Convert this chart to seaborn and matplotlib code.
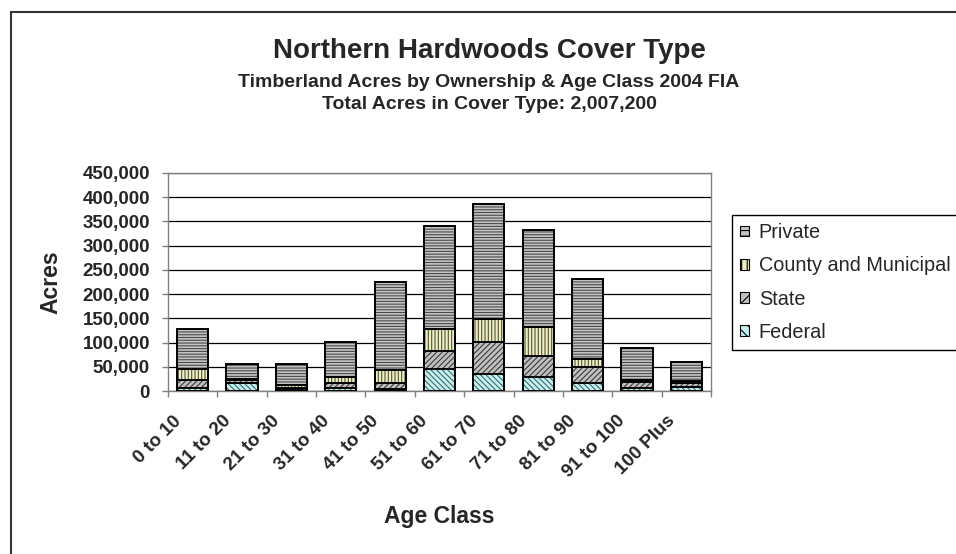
import numpy as np
import pandas as pd
import matplotlib
matplotlib.use("Agg")
import matplotlib.pyplot as plt
import seaborn as sns
from matplotlib.patches import Patch, Rectangle
from matplotlib.transforms import ScaledTranslation
from matplotlib.ticker import FixedLocator, NullFormatter, FuncFormatter

# ---------------- data ----------------
categories = ["0 to 10", "11 to 20", "21 to 30", "31 to 40", "41 to 50", "51 to 60",
              "61 to 70", "71 to 80", "81 to 90", "91 to 100", "100 Plus"]
federal = [5500, 15800, 3400, 5500, 3400, 45500, 35800, 29600, 16500, 6200, 9000]
state = [17200, 6900, 3500, 10300, 12400, 36500, 66200, 42000, 33100, 12400, 6800]
county = [22800, 2100, 4800, 13800, 26900, 46000, 46000, 59900, 15800, 4100, 4200]
private = [82500, 31700, 44800, 72400, 181800, 212000, 239000, 201500, 166600, 66800, 40000]
series_names = ["Federal", "State", "County and Municipal", "Private"]
y_ticks = [0, 50000, 100000, 150000, 200000, 250000, 300000, 350000, 400000, 450000]

title = "Northern Hardwoods Cover Type"
subtitle1 = "Timberland Acres by Ownership & Age Class 2004 FIA"
subtitle2 = "Total Acres in Cover Type: 2,007,200"

# ---------------- style ----------------
sns.set_style("white")
plt.rcParams["font.family"] = ["Liberation Sans", "DejaVu Sans"]
plt.rcParams["hatch.linewidth"] = 0.8

styles = {
    "Private": dict(fc="#c4c4c4", hatch="------", hc="#4a4a4a"),
    "County and Municipal": dict(fc="#eeeec4", hatch="|||||", hc="#55553a"),
    "State": dict(fc="#c0c0c0", hatch="//////", hc="#3a3a3a"),
    "Federal": dict(fc="#c4f0f0", hatch="\\\\\\\\\\\\", hc="#3d6b6b"),
}

W, H = 956, 554
fig = plt.figure(figsize=(W / 100, H / 100), dpi=100)
ax = fig.add_axes([168 / W, 1 - 391 / H, 543 / W, 218 / H])

stack = np.cumsum(np.array([federal, state, county, private], dtype=float), axis=0)

# draw from the top layer down so each lower cumulative bar covers the one above
for idx in range(3, -1, -1):
    name = series_names[idx]
    st = styles[name]
    df = pd.DataFrame({"Age Class": categories, "Acres": stack[idx]})
    sns.barplot(data=df, x="Age Class", y="Acres", order=categories, color=st["fc"],
                saturation=1, width=0.63, errorbar=None, hatch=st["hatch"],
                edgecolor=st["hc"], linewidth=0, ax=ax, zorder=2)
    sns.barplot(data=df, x="Age Class", y="Acres", order=categories, color="black",
                fill=False, width=0.63, errorbar=None, edgecolor="black",
                linewidth=1.4, ax=ax, zorder=3)

# axes
ax.set_xlim(-0.5, len(categories) - 0.5)
ax.set_ylim(0, 450000)
ax.yaxis.set_major_locator(FixedLocator(y_ticks))
ax.yaxis.set_major_formatter(FuncFormatter(lambda v, p: f"{int(v):,}"))
ax.yaxis.grid(True, color="black", linewidth=0.9)
ax.xaxis.grid(False)
ax.set_axisbelow(True)

ax.xaxis.set_major_locator(FixedLocator(np.arange(-0.5, len(categories), 1.0)))
ax.xaxis.set_major_formatter(NullFormatter())
ax.set_xticks(np.arange(len(categories)), minor=True)
ax.set_xticklabels(categories, minor=True, rotation=45, ha="right",
                   fontsize=13.5, fontweight="bold")
ax.tick_params(axis="x", which="major", length=4.3, width=1, color="#808080",
               direction="out", bottom=True)
ax.tick_params(axis="x", which="minor", length=0, pad=15.5, bottom=True)
offset = ScaledTranslation(-8 / 100, 0, fig.dpi_scale_trans)
for lab in ax.get_xticklabels(minor=True):
    lab.set_transform(lab.get_transform() + offset)

ax.tick_params(axis="y", which="major", length=4.3, width=1, color="#808080",
               direction="out", left=True, pad=8.6, labelsize=13.5)
for lab in ax.get_yticklabels():
    lab.set_fontweight("bold")

for sp in ax.spines.values():
    sp.set_visible(True)
    sp.set_color("#808080")
    sp.set_linewidth(1.0)

ax.set_xlabel("Age Class", fontsize=16.5, fontweight="bold")
ax.set_ylabel("Acres", fontsize=16.5, fontweight="bold")
ax.xaxis.set_label_coords(0.5, (391 - 517) / 218)
ax.xaxis.label.set_verticalalignment("center")
ax.yaxis.set_label_coords((51 - 168) / 543, 0.5)
ax.yaxis.label.set_verticalalignment("center")

# legend
handles = []
labels = []
for name in ["Private", "County and Municipal", "State", "Federal"]:
    st = styles[name]
    handles.append(Patch(facecolor=st["fc"], edgecolor="black", hatch=st["hatch"][:3],
                         linewidth=0.8))
    labels.append(name)
leg = fig.legend(handles, labels, loc="upper left",
                 bbox_to_anchor=(732 / W, 1 - 215 / H), borderaxespad=0,
                 frameon=True, fancybox=False, framealpha=1, edgecolor="black",
                 fontsize=14.3, handlelength=0.45, handleheight=0.45,
                 handletextpad=0.5, labelspacing=0.72, borderpad=0.4)
leg.get_frame().set_linewidth(1.0)

# titles
cx = 489 / W
fig.text(cx, 1 - 58 / H, title, ha="center", va="baseline", fontsize=20, fontweight="bold")
fig.text(cx, 1 - 87 / H, subtitle1, ha="center", va="baseline", fontsize=14, fontweight="bold")
fig.text(cx, 1 - 109 / H, subtitle2, ha="center", va="baseline", fontsize=14, fontweight="bold")

# outer chart border
fig.add_artist(Rectangle((10.5 / W, -0.05), 1.2, 1 - 12 / H + 0.05,
                         transform=fig.transFigure, fill=False,
                         edgecolor="#333333", linewidth=1.5))

fig.savefig("out.png", dpi=100)
